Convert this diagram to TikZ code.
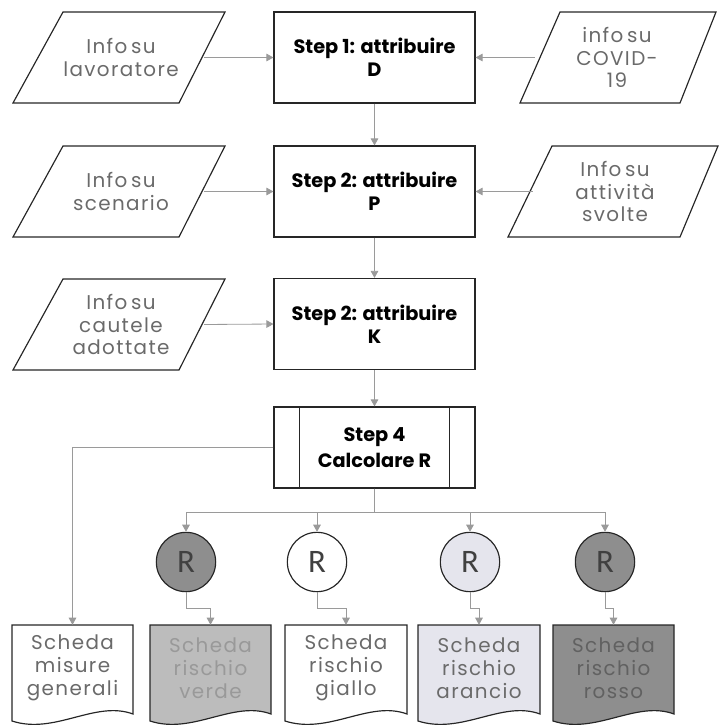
\documentclass[tikz,border=0pt]{standalone}
\usepackage{fontspec}
\setmainfont{Poppins}
\newfontfamily\parafont{Poppins}[LetterSpace=7,WordSpace=0.55]
\newfontfamily\rfont{Carlito}
\usetikzlibrary{arrows.meta}
\definecolor{linegray}{HTML}{9A9A9A}
\definecolor{edge}{HTML}{262626}
\definecolor{txtgray}{HTML}{6A6A6A}
\definecolor{darkfill}{HTML}{8E8E8E}
\definecolor{lightfill}{HTML}{E5E5ED}
\definecolor{midfill}{HTML}{BCBCBC}
\begin{document}
\begin{tikzpicture}[x=0.03cm,y=-0.03cm,
  every node/.style={font=\fontsize{17}{19}\parafont},
  parain/.style={minimum width=4.98cm,minimum height=2.73cm,inner sep=0pt,align=center,text=txtgray},
  stepbox/.style={draw=edge,line width=1pt,minimum width=6.03cm,minimum height=2.73cm,inner sep=0pt,align=center,font=\fontsize{16.5}{20}\selectfont\bfseries},
  paraline/.style={draw=edge,line width=1pt},
  conn/.style={draw=linegray,line width=0.7pt,-{Triangle[length=6pt,width=6.5pt]}},
  rcirc/.style={draw=edge,line width=1pt,circle,minimum size=1.78cm,inner sep=0pt,font=\fontsize{28}{28}\rfont,text=black!75},
  docin/.style={minimum width=3.63cm,minimum height=2.58cm,inner sep=0pt,align=center,text=txtgray,font=\fontsize{17}{19.5}\parafont},
  docline/.style={draw=edge,line width=1pt}
]
\useasboundingbox (0,0) rectangle (719,726);

% Row 1
\node[stepbox] (s1) at (374.5,57.5) {Step 1: attribuire\\D};
\node[parain] (pl1) at (121,57.5) {Info su\\lavoratore};
\draw[paraline] (13,103) -- (63,12) -- (225,12) -- (179,103) -- cycle;
\node[parain,minimum width=4.92cm] (pr1) at (617,57.5) {info su\\COVID-\\19};
\draw[paraline] (520,103) -- (560,12) -- (716,12) -- (680,103) -- cycle;

% Row 2
\node[stepbox] (s2) at (374.5,191.5) {Step 2: attribuire\\P};
\node[parain] (pl2) at (121,191.5) {Info su\\scenario};
\draw[paraline] (13,237) -- (63,146) -- (225,146) -- (179,237) -- cycle;
\node[parain,minimum width=4.92cm] (pr2) at (615,191.5) {Info su\\attività\\svolte};
\draw[paraline] (508,237) -- (552,146) -- (718,146) -- (680,237) -- cycle;

% Row 3
\node[stepbox] (s3) at (374.5,324) {Step 2: attribuire\\K};
\node[parain] (pl3) at (121,324.5) {Info su\\cautele\\adottate};
\draw[paraline] (13,370) -- (63,279) -- (225,279) -- (179,370) -- cycle;

% Step 4
\node[stepbox,minimum height=2.43cm,font=\fontsize{16.5}{22}\selectfont\bfseries] (s4) at (374.5,447.5) {Step 4\\Calcolare R};
\draw[paraline] ([xshift=0.78cm]s4.north west) -- ([xshift=0.78cm]s4.south west);
\draw[paraline] ([xshift=-0.78cm]s4.north east) -- ([xshift=-0.78cm]s4.south east);

% Circles
\node[rcirc,fill=darkfill] (c1) at (186,562) {R};
\node[rcirc,fill=white] (c2) at (317,562) {R};
\node[rcirc,fill=lightfill] (c3) at (470,562) {R};
\node[rcirc,fill=darkfill] (c4) at (605,562) {R};

% Documents
\draw[docline,fill=white] (12,625) -- (133,625) -- (133,714) .. controls (95,700) and (55,735) .. (12,721) -- cycle;
\node[docin] (d1) at (72.5,668) {Scheda\\misure\\generali};
\draw[docline,fill=midfill] (150,625) -- (271,625) -- (271,714) .. controls (233,700) and (193,735) .. (150,721) -- cycle;
\node[docin,text=black!40] (d2) at (210.5,668) {Scheda\\rischio\\verde};
\draw[docline,fill=white] (285,625) -- (407,625) -- (407,714) .. controls (369,700) and (329,735) .. (285,721) -- cycle;
\node[docin] (d3) at (346,668) {Scheda\\rischio\\giallo};
\draw[docline,fill=lightfill] (418,625) -- (540,625) -- (540,714) .. controls (502,700) and (462,735) .. (418,721) -- cycle;
\node[docin] (d4) at (479,668) {Scheda\\rischio\\arancio};
\draw[docline,fill=darkfill] (553,625) -- (674,625) -- (674,714) .. controls (636,700) and (596,735) .. (553,721) -- cycle;
\node[docin,text=black!62] (d5) at (613.5,668) {Scheda\\rischio\\rosso};

% Connectors
\draw[conn] (pl1.east) -- (s1.west);
\draw[conn] (pr1.west) -- (s1.east);
\draw[conn] (s1.south) -- (s2.north);
\draw[conn] (pl2.east) -- (s2.west);
\draw[conn] (pr2.west) -- (s2.east);
\draw[conn] (s2.south) -- (s3.north);
\draw[conn] (pl3.east) -- (s3.west);
\draw[conn] (s3.south) -- (s4.north);
\draw[conn] (s4.west) -| (d1.north);
\draw[conn] (s4.south) -- ++(0,23.5) -| (c1.north);
\draw[conn] (s4.south) -- ++(0,23.5) -| (c2.north);
\draw[conn] (s4.south) -- ++(0,23.5) -| (c3.north);
\draw[conn] (s4.south) -- ++(0,23.5) -| (c4.north);
\draw[conn] (c1.south) -- ++(0,16) -| (d2.north);
\draw[conn] (c2.south) -- ++(0,16) -| (d3.north);
\draw[conn] (c3.south) -- ++(0,16) -| (d4.north);
\draw[conn] (c4.south) -- ++(0,16) -| (d5.north);
\end{tikzpicture}
\end{document}
